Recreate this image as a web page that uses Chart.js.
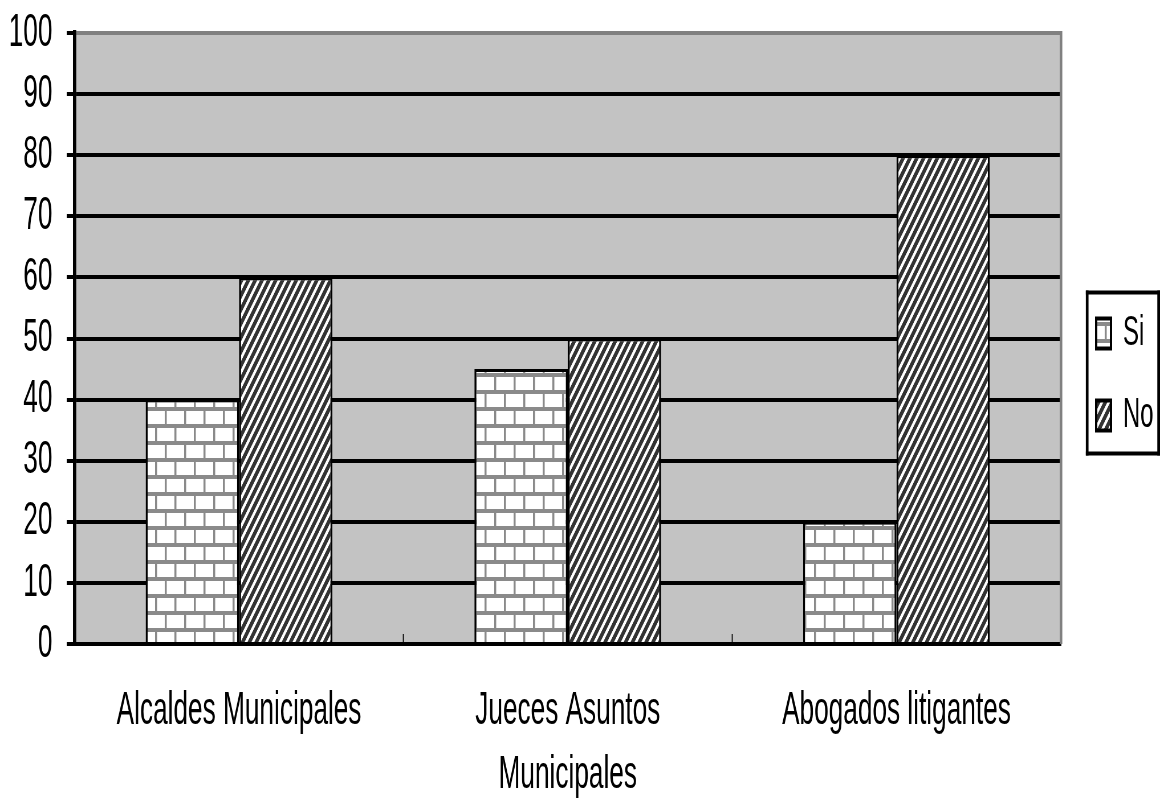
<!DOCTYPE html>
<html>
<head>
<meta charset="utf-8">
<script src="https://cdn.jsdelivr.net/npm/chart.js@4.4.0/dist/chart.umd.min.js"></script>
<style>
html,body{margin:0;padding:0;background:#fff;overflow:hidden;width:1160px;height:800px}
#wrap{position:relative;width:1160px;height:800px;overflow:hidden;background:#fff}
#c{position:absolute;left:0;top:0;transform-origin:0 0}
</style>
</head>
<body>
<div id="wrap"><canvas id="c" width="2035" height="800"></canvas></div>
<script>
// ---- data ----
const categories = ['Alcaldes Municipales', ['Jueces Asuntos', 'Municipales'], 'Abogados litigantes'];
const seriesLabels = ['Si', 'No'];
const siValues = [40, 45, 20];
const noValues = [60, 50, 80];
const yMin = 0;
const yMax = 100;
const yStep = 10;

// ---- rendering setup (text in the reference is horizontally condensed) ----
const CW = 2035, CH = 800, SX = 1160 / CW;
const canvas = document.getElementById('c');
canvas.style.transform = 'scaleX(' + SX + ')';
const ctx = canvas.getContext('2d');
const px = v => v / SX; // horizontal screen pixels -> canvas pixels

Chart.defaults.font.family = '"Liberation Sans", Arial, "DejaVu Sans", sans-serif';
Chart.defaults.color = '#000';

function brickPattern() {
  const t = document.createElement('canvas');
  t.width = 34; t.height = 34;
  const g = t.getContext('2d');
  g.fillStyle = '#fff'; g.fillRect(0, 0, 34, 34);
  g.fillStyle = '#8a8a8a';
  g.fillRect(0, 0, 34, 4);
  g.fillRect(0, 17, 34, 4);
  g.fillRect(0, 4, 3.5, 13);
  g.fillRect(17, 21, 3.5, 13);
  const p = ctx.createPattern(t, 'repeat');
  if (p.setTransform && window.DOMMatrix) p.setTransform(new DOMMatrix().translate(0, 16));
  return p;
}
function hatchPattern() {
  const w = 12, h = 14;
  const t = document.createElement('canvas');
  t.width = w; t.height = h;
  const g = t.getContext('2d');
  g.fillStyle = '#fff'; g.fillRect(0, 0, w, h);
  g.fillStyle = '#333';
  for (let y = 0; y < h; y++) {
    const x0 = (h - y) * w / h;
    for (const dx of [-2 * w, -w, 0, w]) g.fillRect(x0 + dx, y, 7, 1);
  }
  return ctx.createPattern(t, 'repeat');
}

const LEGEND_W = 174;
const LEGEND_SHIFT_X = 22;
const LEGEND_SHIFT_Y = -42;

const plotDecor = {
  id: 'plotDecor',
  beforeLayout(chart) {
    const lg = chart.legend;
    if (lg && !lg.__patched) {
      const f = lg.fit;
      lg.fit = function () { f.call(this); this.width = LEGEND_W; };
      lg.__patched = true;
    }
  },
  afterLayout(chart) {
    const lg = chart.legend;
    if (lg) {
      lg.left += LEGEND_SHIFT_X; lg.right += LEGEND_SHIFT_X;
      lg.top += LEGEND_SHIFT_Y; lg.bottom += LEGEND_SHIFT_Y;
    }
  },
  beforeDraw(chart) {
    const c = chart.ctx, a = chart.chartArea;
    c.save();
    c.fillStyle = '#fff';
    c.fillRect(0, 0, chart.width, chart.height);
    c.fillStyle = '#c3c3c3';
    c.fillRect(a.left, a.top, a.right - a.left, a.bottom - a.top);
    c.restore();
  },
  beforeDatasetsDraw(chart) {
    const c = chart.ctx, a = chart.chartArea;
    c.save();
    c.fillStyle = '#808080';
    c.fillRect(a.right - px(1), a.top - 2, px(2.5), a.bottom - a.top + 2);
    c.restore();
  },
  afterDraw(chart) {
    const lg = chart.legend;
    if (!lg || !lg.legendHitBoxes || !lg.legendHitBoxes.length) return;
    const hb = lg.legendHitBoxes;
    const first = hb[0], last = hb[hb.length - 1];
    const c = chart.ctx;
    const left = chart.chartArea.right + px(25);
    const right = chart.width;
    const top = first.top - 22;
    const bottom = last.top + last.height + 19;
    const vw = px(2.7), hw = 4;
    c.save();
    c.fillStyle = '#000';
    c.fillRect(left, top, right - left, hw);
    c.fillRect(left, bottom - hw, right - left, hw);
    c.fillRect(left, top, vw, bottom - top);
    c.fillRect(right - vw, top, vw, bottom - top);
    c.restore();
  }
};

const barBorder = { top: 3, left: px(2), right: px(2), bottom: 0 };

new Chart(ctx, {
  type: 'bar',
  data: {
    labels: categories,
    datasets: [
      { label: seriesLabels[0], data: siValues, backgroundColor: brickPattern(), borderColor: '#000', borderWidth: barBorder, borderSkipped: false },
      { label: seriesLabels[1], data: noValues, backgroundColor: hatchPattern(), borderColor: '#000', borderWidth: barBorder, borderSkipped: false }
    ]
  },
  options: {
    responsive: false,
    devicePixelRatio: 1,
    animation: false,
    datasets: { bar: { categoryPercentage: 0.568, barPercentage: 1 } },
    layout: { padding: { top: 33, bottom: 0, left: 0, right: 0 } },
    plugins: {
      tooltip: { enabled: false },
      legend: {
        position: 'right',
        labels: {
          boxWidth: 26,
          boxHeight: 30,
          padding: 40,
          color: '#000',
          font: { size: 42 },
          generateLabels(chart) {
            return Chart.defaults.plugins.legend.labels.generateLabels(chart).map(l => Object.assign(l, { lineWidth: 4, strokeStyle: '#000' }));
          }
        }
      }
    },
    scales: {
      x: {
        z: 1,
        grid: {
          display: true,
          drawOnChartArea: false,
          drawTicks: true,
          offset: true,
          tickLength: -10,
          tickWidth: px(1),
          tickColor: (c) => (c.index === 1 || c.index === 2) ? '#000' : 'rgba(0,0,0,0)'
        },
        border: { display: true, color: '#000', width: 4 },
        ticks: {
          padding: 45,
          maxRotation: 0,
          minRotation: 0,
          autoSkip: false,
          color: '#000',
          font: { size: 46, lineHeight: '64px' }
        },
        afterFit(s) { s.height = 156; }
      },
      y: {
        min: yMin,
        max: yMax,
        ticks: { stepSize: yStep, padding: 25, color: '#000', font: { size: 46 } },
        grid: {
          color: (c) => (c.tick && c.tick.value === yMax) ? '#808080' : '#000',
          lineWidth: 4,
          tickLength: 14,
          tickColor: '#000'
        },
        border: { display: true, color: '#000', width: px(3.3) },
        afterFit(s) { s.width = 131; s.paddingTop = 0; s.paddingBottom = 0; }
      }
    }
  },
  plugins: [plotDecor]
});
</script>
</body>
</html>
